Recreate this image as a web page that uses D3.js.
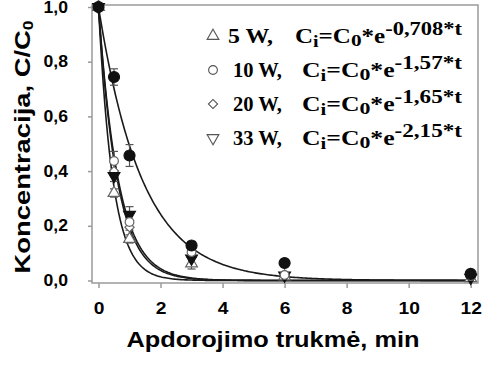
<!DOCTYPE html>
<html>
<head>
<meta charset="utf-8">
<script src="https://cdn.jsdelivr.net/npm/d3@7"></script>
<style>
  body { margin: 0; background: #fff; }
  svg { display: block; }
</style>
</head>
<body>
<svg id="chart" width="483" height="365"></svg>
<script>
// laikas, min
const times = [0, 0.5, 1, 3, 6, 12];
const xTicks = [0, 2, 4, 6, 8, 10, 12];
const yTicks = [0, 0.2, 0.4, 0.6, 0.8, 1.0];

// matavimai (C/C0)
const filledCircle = [1, 0.744, 0.457, 0.128, 0.064, 0.024];
const filledCircleErr = [0, 0.03, 0.04, 0.015, 0, 0];
const openCircle = [1, 0.437, 0.214, 0.104, 0.02, 0.016];
const openCircleErr = [0, 0.035, 0.03, 0.015, 0, 0];
const diamond = [1, 0.40, 0.195, 0.085, 0.018, 0.012];
const downTri = [1, 0.382, 0.24, 0.08, 0.018, 0.01];
const downTriErr = [0, 0.02, 0.03, 0.02, 0, 0];
const openTri = [1, 0.32, 0.152, 0.062, 0.015, 0.008];
const openTriErr = [0, 0.015, 0.015, 0.02, 0, 0];

// legenda
const powers = ['5 W,', '10 W,', '20 W,', '33 W,'];
const rateK = [0.708, 1.57, 1.65, 2.15];
const kLabels = ['-0,708*t', '-1,57*t', '-1,65*t', '-2,15*t'];
const legendSymbols = ['up', 'circle', 'diamond', 'down'];

const svg = d3.select('#chart');

const x = d3.scaleLinear().domain([0, 12]).range([98.5, 470.7]);
const y = d3.scaleLinear().domain([0, 1]).range([280.5, 7]);

// isplesti teksta horizontaliai (originalas istemptas)
function stretch (sel, f) {
  sel.each(function () {
    const w = this.getComputedTextLength();
    d3.select(this).attr('textLength', w * f).attr('lengthAdjust', 'spacingAndGlyphs');
  });
}

// remelis
svg.append('rect')
  .attr('x', 92).attr('y', 5)
  .attr('width', 386).attr('height', 278)
  .attr('fill', 'none')
  .attr('stroke', '#9a9a9a')
  .attr('stroke-width', 1.5);

// asys
const yAxis = svg.append('g')
  .attr('transform', 'translate(92,0)')
  .call(d3.axisLeft(y).tickValues(yTicks).tickSize(4).tickPadding(20)
    .tickFormat(d => d3.format('.1f')(d).replace('.', ',')));
yAxis.select('.domain').remove();
yAxis.selectAll('line').attr('stroke', '#9a9a9a').attr('stroke-width', 1.5);
yAxis.selectAll('text')
  .attr('font-family', 'Liberation Sans, Arial, sans-serif')
  .attr('font-weight', 'bold')
  .attr('font-size', 16)
  .attr('fill', '#000')
  .call(stretch, 1.1);

const xAxis = svg.append('g')
  .attr('transform', 'translate(0,283)')
  .call(d3.axisBottom(x).tickValues(xTicks).tickSize(5).tickPadding(15)
    .tickFormat(d3.format('d')));
xAxis.select('.domain').remove();
xAxis.selectAll('line').attr('stroke', '#9a9a9a').attr('stroke-width', 1.5);
xAxis.selectAll('text')
  .attr('font-family', 'Liberation Sans, Arial, sans-serif')
  .attr('font-weight', 'bold')
  .attr('font-size', 16)
  .attr('fill', '#000')
  .call(stretch, 1.2);

// asiu pavadinimai
svg.append('text')
  .attr('x', 273).attr('y', 347)
  .attr('text-anchor', 'middle')
  .attr('font-family', 'Liberation Sans, Arial, sans-serif')
  .attr('font-weight', 'bold')
  .attr('font-size', 22)
  .text('Apdorojimo trukmė, min')
  .attr('textLength', 293)
  .attr('lengthAdjust', 'spacingAndGlyphs');

const yTitle = svg.append('text')
  .attr('transform', 'translate(30,147) rotate(-90)')
  .attr('text-anchor', 'middle')
  .attr('font-family', 'Liberation Sans, Arial, sans-serif')
  .attr('font-weight', 'bold')
  .attr('font-size', 22);
yTitle.append('tspan').text('Koncentracija, C/C');
yTitle.append('tspan').attr('font-size', 14).attr('dy', 3).text('0');
yTitle.attr('textLength', 253).attr('lengthAdjust', 'spacingAndGlyphs');

// pritaikytos kreives
const curveT = d3.range(0, 12.001, 0.05);
const line = d3.line().x(d => x(d[0])).y(d => y(d[1]));
svg.append('g')
  .selectAll('path')
  .data(rateK)
  .join('path')
  .attr('d', k => line(curveT.map(t => [t, Math.exp(-k * t)])))
  .attr('fill', 'none')
  .attr('stroke', '#1a1a1a')
  .attr('stroke-width', 1.6);

// paklaidos
function errorBars (vals, errs) {
  const g = svg.append('g').attr('stroke', '#555').attr('stroke-width', 1.2);
  times.forEach((t, i) => {
    if (!errs[i]) return;
    const cx = x(t), y0 = y(vals[i] - errs[i]), y1 = y(vals[i] + errs[i]);
    g.append('line').attr('x1', cx).attr('x2', cx).attr('y1', y0).attr('y2', y1);
    g.append('line').attr('x1', cx - 4).attr('x2', cx + 4).attr('y1', y0).attr('y2', y0);
    g.append('line').attr('x1', cx - 4).attr('x2', cx + 4).attr('y1', y1).attr('y2', y1);
  });
}
errorBars(openTri, openTriErr);
errorBars(downTri, downTriErr);
errorBars(openCircle, openCircleErr);
errorBars(filledCircle, filledCircleErr);

function symbolPath (kind, size) {
  if (kind === 'circle') return d3.symbol(d3.symbolCircle, size)();
  if (kind === 'diamond') return d3.symbol(d3.symbolSquare, size * 0.7)();
  return d3.symbol(d3.symbolTriangle, size)();
}
function symbolRotate (kind) {
  if (kind === 'down') return ' rotate(180)';
  if (kind === 'diamond') return ' rotate(45)';
  return '';
}

function drawPoints (vals, kind, filled, size) {
  svg.append('g')
    .selectAll('path')
    .data(vals)
    .join('path')
    .attr('d', symbolPath(kind, size))
    .attr('transform', (d, i) => `translate(${x(times[i])},${y(d)})${symbolRotate(kind)}`)
    .attr('fill', filled ? '#111' : '#fff')
    .attr('stroke', filled ? '#111' : '#666')
    .attr('stroke-width', 1.2);
}
drawPoints(openTri, 'up', false, 60);
drawPoints(diamond, 'diamond', false, 60);
drawPoints(downTri, 'down', true, 60);
drawPoints(openCircle, 'circle', false, 60);
drawPoints(filledCircle, 'circle', true, 95);

// legenda
const leg = svg.append('g')
  .attr('font-family', 'Liberation Serif, Times New Roman, serif')
  .attr('font-weight', 'bold')
  .attr('fill', '#000');
const rowY = d3.scalePoint().domain(d3.range(4)).range([43, 145]);
powers.forEach((p, i) => {
  const base = rowY(i);
  const sym = legendSymbols[i];
  leg.append('path')
    .attr('d', symbolPath(sym, 60))
    .attr('transform', `translate(213,${base - 7})${symbolRotate(sym)}`)
    .attr('fill', '#fff')
    .attr('stroke', '#555')
    .attr('stroke-width', 1.1);
  leg.append('text')
    .attr('x', i === 0 ? 228 : 233).attr('y', base)
    .attr('font-size', 20)
    .text(p)
    .attr('textLength', i === 0 ? 45 : 49)
    .attr('lengthAdjust', 'spacingAndGlyphs');
  const eq = leg.append('text')
    .attr('x', i === 0 ? 295 : 302).attr('y', base)
    .attr('font-size', 20);
  eq.append('tspan').text('C');
  eq.append('tspan').attr('font-size', 16).attr('dy', 4).text('i');
  eq.append('tspan').attr('dy', -4).text('=C');
  eq.append('tspan').attr('font-size', 17).attr('dy', 3).text('0');
  eq.append('tspan').attr('dy', -3).text('*e');
  eq.append('tspan').attr('font-size', 18).attr('dy', -8).text(kLabels[i]);
  eq.attr('textLength', i === 0 ? 167 : 160).attr('lengthAdjust', 'spacingAndGlyphs');
});
</script>
</body>
</html>
